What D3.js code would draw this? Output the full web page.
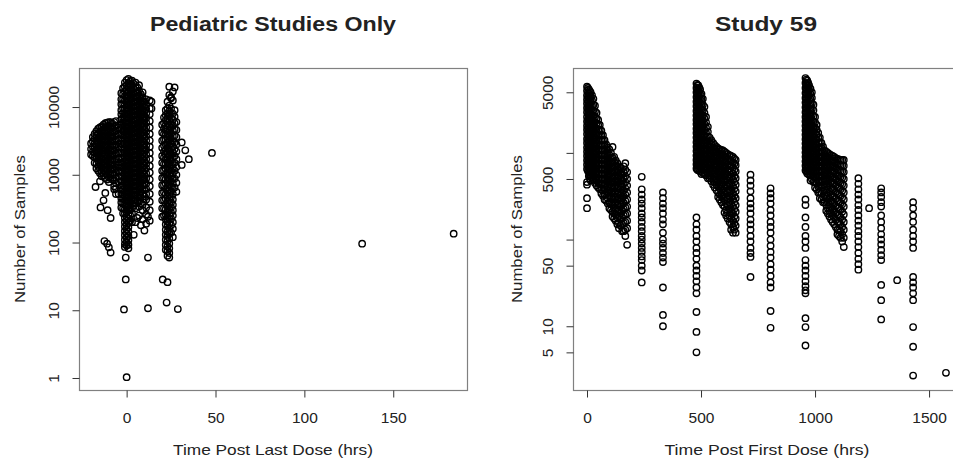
<!DOCTYPE html>
<html lang="en">
  <head>
    <meta charset="utf-8">
    <title>Samples vs time</title>
    <script src="https://cdnjs.cloudflare.com/ajax/libs/d3/7.8.5/d3.min.js"></script>
    <style type="text/css">
      body { margin: 0; background: #fff; }
      text { font-family: "Liberation Sans", Arial, sans-serif; fill: #222; }
    </style>
  </head>
  <body>
    <script type="text/javascript">
    // tick values
    var pedXTicks = [0, 50, 100, 150];
    var pedYTicks = [1, 10, 100, 1000, 10000];
    var pedYLabels = ["1", "10", "100", "1000", "10000"];
    var s59XTicks = [0, 500, 1000, 1500];
    var s59YTicks = [5, 10, 50, 100, 500, 1000, 5000];
    var s59YLabels = ["5", "10", "50", "", "500", "", "5000"];

    // Pediatric studies: [time, [samples...]] columns
    var pedCols = [
      [-20, [2900, 2400, 2000]],
      [-19, [3600, 3100, 2600, 2200, 1900]],
      [-18, [4000, 3400, 2900, 2500, 2100, 1800, 1500]],
      [-17, [4400, 3800, 3250, 2800, 2400, 2050, 1750, 1450, 1250]],
      [-16, [4800, 4100, 3500, 3000, 2600, 2200, 1900, 1600, 1350, 1150]],
      [-15, [5000, 4300, 3650, 3150, 2700, 2300, 1950, 1700, 1450, 1220, 1050]],
      [-14, [5200, 4500, 3800, 3300, 2800, 2400, 2050, 1750, 1500, 1280, 1100, 950]],
      [-13, [5500, 4700, 4000, 3450, 2950, 2500, 2150, 1850, 1580, 1350, 1150, 980]],
      [-12, [5800, 5000, 4300, 3700, 3200, 2700, 2300, 2000, 1700, 1450, 1250, 1050, 900]],
      [-11, [5900, 5100, 4300, 3700, 3150, 2700, 2300, 1950, 1650, 1400, 1200, 1000, 850]],
      [-10, [6000, 5200, 4400, 3800, 3250, 2800, 2400, 2050, 1750, 1500, 1280, 1100, 920, 780]],
      [-9, [6000, 5100, 4400, 3750, 3200, 2750, 2350, 2000, 1700, 1450, 1250, 1050, 900]],
      [-8, [5700, 4900, 4200, 3600, 3100, 2650, 2250, 1900, 1650, 1400, 1200, 1000, 850]],
      [-7, [6000, 5100, 4350, 3700, 3150, 2700, 2300, 1950, 1650, 1400, 1200, 1000, 820, 680]],
      [-6, [6200, 5300, 4500, 3850, 3300, 2800, 2400, 2050, 1750, 1500, 1270, 1080, 900, 750, 620, 520]],
      [-4.5, [5000, 4000, 3200, 2600, 2100, 1700, 1400, 1150, 950, 780]],
      [-3, [16000, 13000, 11000, 9000, 7800, 6600, 5500, 4700, 4000, 3400, 2900, 2500, 2100, 1800, 1500, 1300, 1100, 950, 800, 690, 600, 520, 450, 390, 330]],
      [-2, [19000, 15500, 13000, 11000, 9500, 8100, 7000, 6000, 5100, 4400, 3800, 3250, 2800, 2400, 2050, 1750, 1500, 1280, 1100, 940, 810, 700, 600, 510, 440, 380, 320, 270]],
      [-1, [23000, 20000, 17000, 14500, 12500, 10800, 9300, 8000, 6900, 6000, 5200, 4500, 3900, 3400, 2900, 2500, 2150, 1850, 1600, 1380, 1200, 1030, 890, 770, 660, 570, 490, 420, 360, 310, 270, 230, 200, 172, 148, 128, 110, 95, 86]],
      [0, [25000, 21000, 18000, 15600, 13500, 11500, 9800, 8500, 7300, 6300, 5500, 4750, 4100, 3550, 3050, 2650, 2250, 1950, 1680, 1450, 1250, 1080, 930, 800, 690, 590, 510, 440, 380, 325, 280, 240, 210, 180, 155, 135, 117, 100, 90]],
      [1, [26000, 22500, 19500, 16800, 14500, 12400, 10600, 9100, 7900, 6800, 5900, 5100, 4400, 3800, 3250, 2800, 2400, 2050, 1780, 1530, 1320, 1140, 980, 850, 730, 630, 540, 470, 400, 345, 300, 260, 225, 195, 168, 145, 125, 108, 93, 82]],
      [2, [24000, 20500, 17500, 15000, 12900, 11000, 9500, 8200, 7000, 6000, 5200, 4500, 3900, 3350, 2900, 2500, 2150, 1850, 1600, 1380, 1180, 1010, 870, 750, 650, 560, 480, 410, 350, 300, 250, 210]],
      [3, [24500, 21000, 18000, 15500, 13400, 11500, 9900, 8500, 7300, 6300, 5400, 4700, 4000, 3450, 3000, 2600, 2200, 1900, 1650, 1420, 1220, 1050, 900, 780, 670, 580, 500, 430, 370, 320, 270, 200]],
      [4, [22000, 18500, 16000, 13800, 11800, 10100, 8700, 7500, 6400, 5500, 4750, 4100, 3500, 3000, 2600, 2250, 1930, 1660, 1430, 1230, 1060, 910, 780, 670, 580, 500, 420, 350]],
      [5, [23000, 19500, 16500, 14000, 12000, 10300, 8800, 7600, 6500, 5600, 4800, 4150, 3550, 3050, 2650, 2280, 1960, 1690, 1450, 1250, 1080, 930, 800, 690, 590, 510, 440, 380, 320]],
      [6, [19500, 16500, 14200, 12200, 10500, 9000, 7800, 6700, 5800, 5000, 4300, 3700, 3150, 2700, 2300, 1980, 1700, 1460, 1250, 1070, 920, 790, 680, 580, 490, 410]],
      [7, [21000, 17500, 14800, 12700, 10900, 9400, 8100, 7000, 6000, 5150, 4450, 3850, 3300, 2850, 2450, 2100, 1800, 1550, 1340, 1150, 990, 850, 740, 640, 550, 470, 400, 340, 250]],
      [8, [15500, 13200, 11300, 9700, 8300, 7200, 6200, 5300, 4600, 3950, 3400, 2900, 2500, 2150, 1850, 1590, 1370, 1180, 1010, 870, 750, 640, 550, 460, 380]],
      [9, [16500, 14000, 12000, 10300, 8900, 7700, 6600, 5700, 4900, 4200, 3600, 3100, 2700, 2300, 2000, 1720, 1480, 1280, 1100, 950, 820, 700, 600, 520, 440, 360, 300, 220]],
      [10, [12000, 10200, 8700, 7400, 6400, 5500, 4700, 4000, 3450, 2950, 2550, 2180, 1870, 1600, 1370, 1170, 1000, 850, 720, 600, 480]],
      [11, [13000, 11000, 9400, 8000, 6900, 5900, 5000, 4300, 3700, 3200, 2700, 2350, 2000, 1700, 1450, 1250, 1050, 880, 740, 620, 520, 430, 330, 260, 190]],
      [13, [12500, 9500, 7800, 6200, 5000, 4000, 3200, 2600, 2100, 1700, 1350, 1080, 850, 680, 520, 400, 300, 210]],
      [20, [5500, 4200, 3200, 2500, 1900, 1500, 1150, 900, 700, 540, 420, 320, 240]],
      [21, [7000, 5800, 4800, 4000, 3300, 2700, 2200, 1800, 1450, 1150, 900, 700, 550, 420, 320, 250]],
      [22, [9000, 7600, 6400, 5400, 4600, 3900, 3300, 2800, 2350, 2000, 1700, 1450, 1220, 1030, 870, 740, 620, 520, 440, 370, 310, 260, 220, 185, 155, 130, 110, 92, 78]],
      [23, [12000, 9500, 8000, 6800, 5800, 4900, 4150, 3500, 3000, 2500, 2100, 1800, 1520, 1290, 1090, 920, 780, 660, 560, 470, 400, 340, 285, 240, 205, 175, 145, 125, 105, 88, 75, 64]],
      [24, [20000, 15000, 10500, 8800, 7400, 6300, 5300, 4500, 3800, 3200, 2700, 2300, 1950, 1650, 1400, 1180, 1000, 850, 720, 610, 520, 440, 370, 310, 265, 225, 190, 160, 135, 115, 97, 82, 70, 60]],
      [25, [14000, 9500, 8100, 6900, 5800, 4900, 4100, 3450, 2900, 2400, 2000, 1650, 1380, 1150, 960, 800, 670, 560, 470, 390, 330, 275, 225, 180, 140]],
      [26, [17000, 12500, 8000, 6500, 5400, 4500, 3700, 3100, 2600, 2150, 1800, 1500, 1250, 1050, 880, 740, 620, 520, 430, 360, 300, 250, 200, 160, 120]],
      [27, [9000, 7200, 5800, 4700, 3800, 3000, 2400, 1900, 1500, 1150, 880, 650]],
      [28, [6000, 4600, 3600, 2800, 2200, 1700, 1300, 1000, 760, 560]]
    ];
    var pedExtra = [
      [-17.5, 660], [-12, 540], [-14.7, 330], [-10.7, 300], [-9, 230], [-13, 420],
      [-7, 610], [-4.5, 520], [-15, 800], [-11, 96], [-10, 85], [-9, 71], [-12.5, 105],
      [-0.5, 60], [-0.5, 28.5], [-1.5, 10.3], [0, 1.03], [12, 60], [12, 10.7],
      [20.3, 28.5], [23, 26], [22.5, 13], [28.8, 10.4], [31, 3000], [33, 2300],
      [35, 1700], [31, 1400], [27, 19500], [25, 13500], [14, 12000], [14, 9500],
      [48, 2100], [132.5, 96], [184, 135], [6, 230], [8, 180], [10, 150], [5, 200],
      [12, 240], [4, 130]
    ];

    // Study 59: [time, [samples...]] columns
    var s59Cols = [
      [0, [5800, 5200, 4600, 4100, 3700, 3300, 2950, 2600, 2300, 2050, 1850, 1650, 1450, 1300, 1150, 1030, 920, 820, 730, 650, 460, 430, 300, 230]],
      [4, [5600, 5000, 4450, 3950, 3500, 3150, 2800, 2450, 2200, 1950, 1750, 1550, 1380, 1230, 1100, 980, 870, 780, 690, 620]],
      [8, [5400, 4800, 4300, 3800, 3400, 3000, 2700, 2400, 2150, 1900, 1700, 1500, 1340, 1200, 1060, 950, 840, 750, 670, 600, 540]],
      [12, [5200, 4600, 4100, 3650, 3250, 2900, 2550, 2300, 2050, 1800, 1600, 1430, 1270, 1130, 1010, 900, 800, 710, 640, 570, 510]],
      [16, [5000, 4400, 3900, 3500, 3100, 2750, 2450, 2200, 1950, 1750, 1550, 1380, 1230, 1100, 980, 870, 780, 690, 610, 540, 480]],
      [22, [4600, 4000, 3500, 3050, 2700, 2400, 2100, 1850, 1650, 1470, 1300, 1160, 1040, 930, 830, 740, 660, 580, 520]],
      [28, [4200, 3600, 3100, 2700, 2350, 2050, 1800, 1600, 1420, 1260, 1120, 1000, 890, 790, 700, 620, 550, 490]],
      [35, [3500, 3000, 2600, 2250, 1950, 1700, 1500, 1330, 1180, 1050, 940, 840, 740, 660, 580, 510, 450]],
      [42, [2900, 2500, 2200, 1900, 1650, 1450, 1280, 1130, 1000, 880, 780, 690, 610, 540, 480, 420]],
      [49, [2400, 2100, 1850, 1600, 1400, 1230, 1080, 960, 850, 750, 660, 580, 510, 450, 400]],
      [56, [2100, 1850, 1600, 1400, 1230, 1080, 950, 840, 740, 650, 570, 500, 440, 380]],
      [63, [1800, 1600, 1400, 1230, 1080, 950, 840, 740, 650, 570, 500, 440, 380, 340]],
      [70, [1600, 1400, 1220, 1070, 940, 830, 730, 640, 560, 490, 430, 370, 320]],
      [77, [1400, 1230, 1080, 950, 840, 740, 650, 570, 500, 440, 380, 330, 290]],
      [84, [1250, 1100, 960, 840, 740, 650, 570, 500, 440, 380, 330, 280]],
      [91, [1150, 1020, 900, 790, 690, 610, 530, 470, 410, 350, 300, 260]],
      [98, [1100, 950, 830, 730, 640, 560, 490, 430, 370, 320, 270, 230]],
      [105, [1000, 880, 770, 680, 600, 530, 460, 400, 350, 300, 260, 220]],
      [112, [1170, 880, 770, 670, 590, 510, 450, 390, 340, 290, 250, 210, 185]],
      [119, [900, 790, 700, 610, 540, 470, 410, 360, 310, 270, 230, 200, 175]],
      [126, [820, 720, 630, 550, 480, 420, 360, 310, 270, 230, 195, 165]],
      [133, [760, 670, 590, 510, 450, 390, 335, 290, 250, 210, 180, 150]],
      [140, [700, 620, 540, 470, 410, 350, 300, 260, 220, 185, 155, 135]],
      [147, [680, 590, 510, 440, 380, 325, 280, 240, 200, 170, 145]],
      [154, [650, 560, 480, 410, 350, 300, 255, 215, 180, 150, 125]],
      [161, [700, 600, 510, 440, 370, 315, 265, 225, 190, 155, 125]],
      [168, [760, 640, 540, 460, 390, 330, 280, 235, 195, 160, 130, 110]],
      [176, [600, 500, 420, 350, 290, 240, 200, 165, 135, 87]],
      [240, [530, 380, 330, 290, 260, 230, 200, 180, 160, 140, 125, 110, 100, 90, 80, 72, 64, 58, 50, 44, 32]],
      [333, [350, 300, 260, 230, 200, 170, 150, 120, 100, 90, 80, 70, 62, 55, 28, 13.5, 10]],
      [480, [6300, 5600, 5000, 4400, 3900, 3450, 3050, 2700, 2400, 2150, 1900, 1700, 1500, 1330, 1180, 1050, 930, 830, 740, 660, 180, 150, 130, 110, 95, 80, 70, 60, 50, 44, 38, 33, 28, 24, 14.6, 8.6, 5]],
      [484, [6100, 5450, 4850, 4300, 3800, 3400, 3000, 2650, 2350, 2100, 1860, 1650, 1470, 1310, 1160, 1030, 910, 810, 720, 640]],
      [488, [6000, 5300, 4700, 4200, 3700, 3300, 2900, 2600, 2300, 2050, 1820, 1620, 1440, 1280, 1140, 1010, 900, 800, 710, 630]],
      [492, [5700, 5050, 4450, 3950, 3500, 3100, 2750, 2450, 2150, 1920, 1700, 1510, 1340, 1190, 1060, 940, 840, 740, 660]],
      [496, [5400, 4800, 4200, 3700, 3300, 2900, 2550, 2250, 2000, 1780, 1580, 1400, 1250, 1110, 990, 880, 780, 690, 610]],
      [502, [4800, 4200, 3650, 3200, 2800, 2450, 2150, 1900, 1680, 1490, 1320, 1170, 1040, 920, 820, 720, 640, 570]],
      [508, [4200, 3600, 3100, 2700, 2350, 2050, 1800, 1580, 1400, 1240, 1100, 970, 860, 760, 670, 590]],
      [515, [3400, 2900, 2500, 2150, 1850, 1600, 1400, 1230, 1080, 950, 840, 740, 650, 570]],
      [522, [2600, 2250, 1950, 1700, 1500, 1320, 1170, 1030, 910, 800, 700, 620, 550]],
      [530, [2000, 1750, 1550, 1370, 1210, 1070, 950, 840, 740, 650, 570, 510]],
      [538, [1500, 1350, 1200, 1060, 940, 830, 740, 650, 580, 510]],
      [545, [1400, 1250, 1110, 990, 880, 780, 690, 610, 540, 470]],
      [553, [1300, 1150, 1020, 900, 800, 710, 630, 560, 490, 430]],
      [560, [1230, 1090, 970, 860, 760, 680, 600, 530, 460, 400]],
      [568, [1170, 1040, 920, 810, 720, 640, 560, 490, 430, 370]],
      [575, [1130, 1000, 890, 790, 700, 620, 540, 470, 410, 350, 310]],
      [582, [1100, 970, 860, 760, 670, 590, 520, 450, 390, 330, 290]],
      [589, [1080, 950, 840, 740, 650, 570, 500, 430, 370, 320, 270]],
      [596, [1070, 940, 820, 720, 630, 550, 480, 410, 350, 300, 250]],
      [603, [1030, 910, 790, 700, 610, 530, 460, 390, 330, 280, 240, 205]],
      [610, [1000, 880, 770, 670, 580, 500, 430, 370, 310, 260, 220, 190]],
      [617, [970, 850, 740, 640, 560, 480, 410, 350, 290, 245, 205, 175]],
      [625, [940, 820, 710, 620, 530, 450, 380, 320, 270, 225, 190, 160]],
      [632, [920, 800, 700, 600, 510, 430, 360, 305, 255, 210, 175, 150, 130]],
      [640, [900, 780, 680, 580, 490, 410, 340, 290, 240, 200, 165, 140, 120]],
      [646, [860, 750, 640, 540, 460, 385, 320, 270, 225, 185, 155, 130]],
      [652, [830, 720, 610, 510, 430, 360, 300, 250, 210, 175, 145, 120]],
      [717, [560, 480, 420, 360, 300, 260, 230, 200, 170, 150, 130, 110, 95, 80, 70, 63, 37]],
      [805, [390, 340, 300, 260, 220, 190, 160, 140, 120, 100, 85, 72, 62, 52, 45, 38, 32, 28, 15, 9.6]],
      [958, [7300, 6400, 5600, 4900, 4300, 3800, 3350, 2950, 2600, 2300, 2050, 1820, 1620, 1440, 1280, 1140, 1010, 900, 800, 710, 630, 290, 250, 180, 140, 110, 95, 80, 58, 50, 44, 38, 33, 29, 26, 24, 12.4, 9.8, 6]],
      [962, [7000, 6200, 5450, 4800, 4200, 3700, 3250, 2900, 2550, 2250, 2000, 1780, 1580, 1400, 1250, 1100, 980, 870, 770, 690, 610]],
      [966, [6800, 6000, 5300, 4700, 4150, 3650, 3200, 2850, 2500, 2200, 1950, 1730, 1530, 1360, 1210, 1070, 950, 840, 740, 660, 580]],
      [970, [6400, 5650, 5000, 4400, 3850, 3400, 3000, 2650, 2350, 2050, 1820, 1610, 1420, 1260, 1120, 990, 880, 780, 690, 610]],
      [974, [6000, 5300, 4650, 4100, 3600, 3150, 2800, 2450, 2150, 1900, 1680, 1480, 1310, 1160, 1030, 910, 800, 710, 630, 560]],
      [980, [5500, 4800, 4200, 3650, 3200, 2800, 2450, 2150, 1880, 1650, 1460, 1290, 1140, 1010, 890, 790, 700, 620, 550, 480]],
      [986, [5000, 4300, 3700, 3200, 2750, 2400, 2100, 1830, 1600, 1400, 1230, 1080, 950, 840, 740, 650, 570, 500]],
      [993, [3600, 3100, 2650, 2300, 2000, 1750, 1530, 1340, 1170, 1030, 900, 790, 690, 610, 530, 460]],
      [1000, [2600, 2250, 1950, 1700, 1480, 1300, 1140, 1000, 880, 770, 680, 600, 530, 460, 400]],
      [1007, [2100, 1850, 1620, 1420, 1240, 1090, 960, 840, 740, 650, 570, 500, 440, 380]],
      [1014, [1700, 1500, 1320, 1160, 1020, 900, 790, 700, 610, 540, 470, 410, 350]],
      [1021, [1500, 1320, 1160, 1020, 900, 790, 700, 610, 540, 470, 410, 350, 300]],
      [1028, [1300, 1150, 1010, 890, 780, 690, 600, 530, 460, 400, 340, 290]],
      [1035, [1180, 1040, 920, 810, 710, 630, 550, 480, 420, 360, 310, 270]],
      [1042, [1070, 950, 840, 740, 650, 570, 500, 430, 370, 320, 270]],
      [1049, [1030, 910, 800, 700, 620, 540, 470, 410, 350, 300, 250, 215]],
      [1056, [1000, 880, 770, 680, 590, 510, 440, 380, 320, 270, 230, 200]],
      [1063, [970, 850, 740, 650, 560, 490, 420, 360, 300, 255, 215, 185]],
      [1070, [940, 820, 720, 620, 540, 460, 390, 330, 280, 235, 200, 170]],
      [1077, [920, 800, 700, 610, 520, 450, 380, 320, 270, 225, 190, 160]],
      [1084, [900, 790, 690, 600, 510, 440, 370, 310, 260, 215, 180, 150]],
      [1091, [870, 760, 660, 570, 490, 420, 350, 295, 245, 205, 170, 140]],
      [1098, [850, 740, 640, 550, 470, 400, 340, 280, 235, 195, 160, 130, 115]],
      [1105, [840, 730, 630, 540, 460, 390, 330, 275, 230, 190, 155, 128, 110]],
      [1112, [830, 720, 620, 530, 450, 380, 320, 265, 220, 180, 150, 125, 105]],
      [1119, [830, 715, 610, 515, 435, 365, 305, 255, 210, 170, 140, 115, 95]],
      [1126, [830, 710, 600, 500, 420, 350, 290, 240, 195, 160, 130, 105, 82]],
      [1190, [510, 440, 380, 330, 290, 250, 220, 190, 165, 145, 125, 110, 95, 82, 70, 60, 52, 45]],
      [1290, [390, 350, 310, 270, 240, 190, 160, 135, 115, 100, 88, 76, 66, 58, 30, 20, 12]],
      [1430, [270, 230, 190, 160, 130, 110, 95, 80, 37, 32, 28, 24, 20, 9.8, 5.8, 2.7]]
    ];
    var s59Extra = [[1237, 230], [1360, 34], [1574, 2.9]];

    var w = 953;
    var h = 459;

    var svg = d3.select("body")
                .append("svg")
                .attr("width", w)
                .attr("height", h);

    // slight softening, the reference is a blurry scan
    svg.append("defs")
       .append("filter")
       .attr("id", "soft")
       .append("feGaussianBlur")
       .attr("stdDeviation", 0.45);

    function flatten(cols, extra) {
      var pts = [];
      cols.forEach(function(c) {
        c[1].forEach(function(v) { pts.push([c[0], v]); });
      });
      extra.forEach(function(p) { pts.push(p); });
      return pts;
    }

    function drawPanel(cfg) {
      var x = d3.scaleLinear().domain(cfg.xDomain).range([cfg.left, cfg.right]);
      var y = d3.scaleLog().domain(cfg.yDomain).range([cfg.bottom, cfg.top]);
      var g = svg.append("g");

      g.append("g")
       .attr("filter", "url(#soft)")
       .selectAll("circle")
       .data(cfg.points)
       .enter()
       .append("circle")
       .attr("cx", function(d) { return x(d[0]); })
       .attr("cy", function(d) { return y(d[1]); })
       .attr("r", 3.2)
       .attr("fill", "none")
       .attr("stroke", "#000")
       .attr("stroke-width", 1.4);

      g.append("rect")
       .attr("x", cfg.left + 0.5)
       .attr("y", cfg.top + 0.5)
       .attr("width", cfg.right - cfg.left)
       .attr("height", cfg.bottom - cfg.top)
       .attr("fill", "none")
       .attr("stroke", "#808080")
       .attr("stroke-width", 1.2);

      // x axis
      var xa = g.append("g")
                .attr("transform", "translate(0," + (cfg.bottom + 0.5) + ")")
                .call(d3.axisBottom(x).tickValues(cfg.xTicks).tickSize(7).tickPadding(14)
                        .tickFormat(d3.format("d")));
      xa.select(".domain").remove();
      xa.selectAll("line").attr("stroke", "#333");
      xa.selectAll("text")
        .attr("font-size", "15.5px")
        .attr("fill", "#222");

      // y axis, labels parallel to the axis
      var ya = g.append("g")
                .attr("transform", "translate(" + (cfg.left + 0.5) + ",0)")
                .call(d3.axisLeft(y).tickValues(cfg.yTicks).tickSize(7)
                        .tickFormat(function(d, i) { return cfg.yLabels[i]; }));
      ya.select(".domain").remove();
      ya.selectAll("line").attr("stroke", "#333");
      ya.selectAll("text")
        .attr("transform", "rotate(-90)")
        .attr("x", 0)
        .attr("y", -26)
        .attr("dy", "0.36em")
        .attr("text-anchor", "middle")
        .attr("font-size", "15.5px")
        .attr("fill", "#222");

      var cx = (cfg.left + cfg.right) / 2;
      g.append("text")
       .text(cfg.title)
       .attr("x", cfg.titleX)
       .attr("y", 31)
       .attr("text-anchor", "middle")
       .attr("font-size", "20px")
       .attr("font-weight", "bold")
       .attr("fill", "#1a1a1a")
       .attr("textLength", cfg.titleLen)
       .attr("lengthAdjust", "spacingAndGlyphs");

      g.append("text")
       .text(cfg.xLabel)
       .attr("x", cx)
       .attr("y", 455)
       .attr("text-anchor", "middle")
       .attr("font-size", "15px")
       .attr("textLength", cfg.xLabelLen)
       .attr("lengthAdjust", "spacingAndGlyphs");

      g.append("text")
       .text("Number of Samples")
       .attr("transform", "translate(" + cfg.yLabelX + "," + ((cfg.top + cfg.bottom) / 2) + ") rotate(-90)")
       .attr("dy", "0.36em")
       .attr("text-anchor", "middle")
       .attr("font-size", "15px")
       .attr("textLength", 148)
       .attr("lengthAdjust", "spacingAndGlyphs");
    }

    drawPanel({
      left: 79, right: 467, top: 68, bottom: 390,
      xDomain: [-26.8, 191.5], yDomain: [0.665, 37700],
      xTicks: pedXTicks, yTicks: pedYTicks, yLabels: pedYLabels,
      points: flatten(pedCols, pedExtra),
      title: "Pediatric Studies Only", titleX: 273, titleLen: 246,
      xLabel: "Time Post Last Dose (hrs)", xLabelLen: 200, yLabelX: 20
    });

    drawPanel({
      left: 573, right: 961, top: 68, bottom: 390,
      xDomain: [-61.4, 1640], yDomain: [1.84, 9530],
      xTicks: s59XTicks, yTicks: s59YTicks, yLabels: s59YLabels,
      points: flatten(s59Cols, s59Extra),
      title: "Study 59", titleX: 766, titleLen: 102,
      xLabel: "Time Post First Dose (hrs)", xLabelLen: 205, yLabelX: 517
    });
    </script>
  </body>
</html>
